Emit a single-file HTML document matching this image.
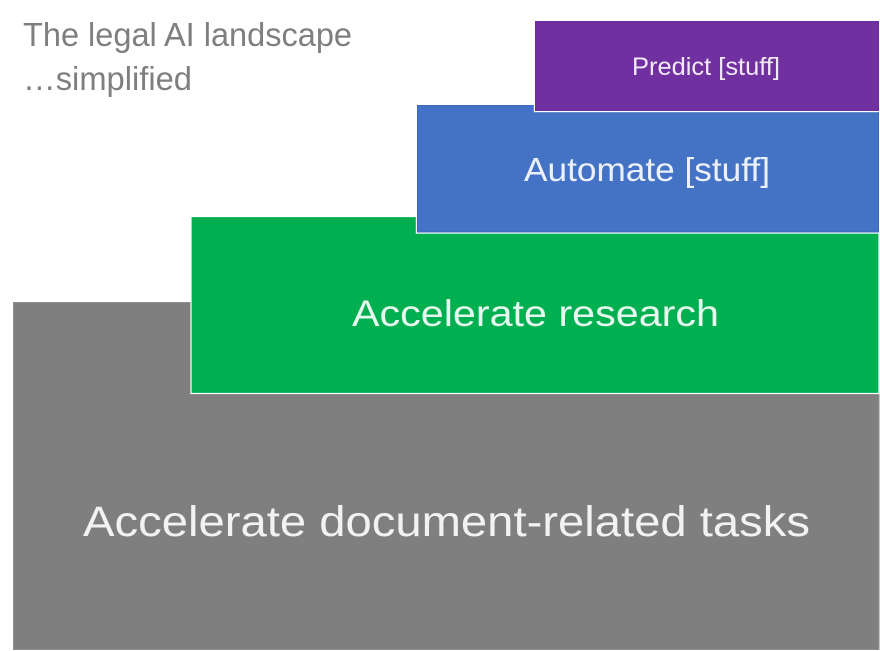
<!DOCTYPE html>
<html>
<head>
<meta charset="utf-8">
<title>The legal AI landscape</title>
<style>
html,body{margin:0;padding:0;background:#fff;width:880px;height:651px;overflow:hidden}
svg{display:block}
text{font-family:"Liberation Sans",sans-serif;fill:#fff;fill-opacity:.9}
</style>
</head>
<body>
<svg width="880" height="651" viewBox="0 0 880 651" xmlns="http://www.w3.org/2000/svg">
<rect width="880" height="651" fill="#fff"/>
<rect x="13.5" y="302.5" width="865.5" height="347" fill="#7f7f7f" stroke="#8f8f8f" stroke-width="1"/>
<rect x="191" y="216.5" width="688" height="177" fill="#00b050" stroke="#fff" stroke-width="1.2"/>
<rect x="416.5" y="105" width="462.5" height="128" fill="#4472c4" stroke="#fff" stroke-width="1.4"/>
<rect x="417.5" y="105.5" width="461" height="126.5" fill="#4472c4" stroke="#3d68bb" stroke-width="1"/>
<rect x="534.5" y="21.5" width="344.5" height="90" fill="#7030a0" stroke="#fff" stroke-width="1.4"/>
<rect x="535.5" y="21.5" width="343" height="89" fill="#7030a0" stroke="#6a2ca0" stroke-width="1"/>
<text x="23" y="46" font-size="33" textLength="329" lengthAdjust="spacingAndGlyphs" style="fill:#7f7f7f;fill-opacity:1">The legal AI landscape</text>
<text x="23" y="90" font-size="33" textLength="169" lengthAdjust="spacingAndGlyphs" style="fill:#7f7f7f;fill-opacity:1">…simplified</text>
<text x="632" y="75" font-size="25" textLength="148" lengthAdjust="spacingAndGlyphs">Predict [stuff]</text>
<text x="524" y="181" font-size="33" textLength="246" lengthAdjust="spacingAndGlyphs">Automate [stuff]</text>
<text x="352" y="326" font-size="37" textLength="367" lengthAdjust="spacingAndGlyphs">Accelerate research</text>
<text x="83" y="536" font-size="43" textLength="727" lengthAdjust="spacingAndGlyphs">Accelerate document-related tasks</text>
</svg>
</body>
</html>
